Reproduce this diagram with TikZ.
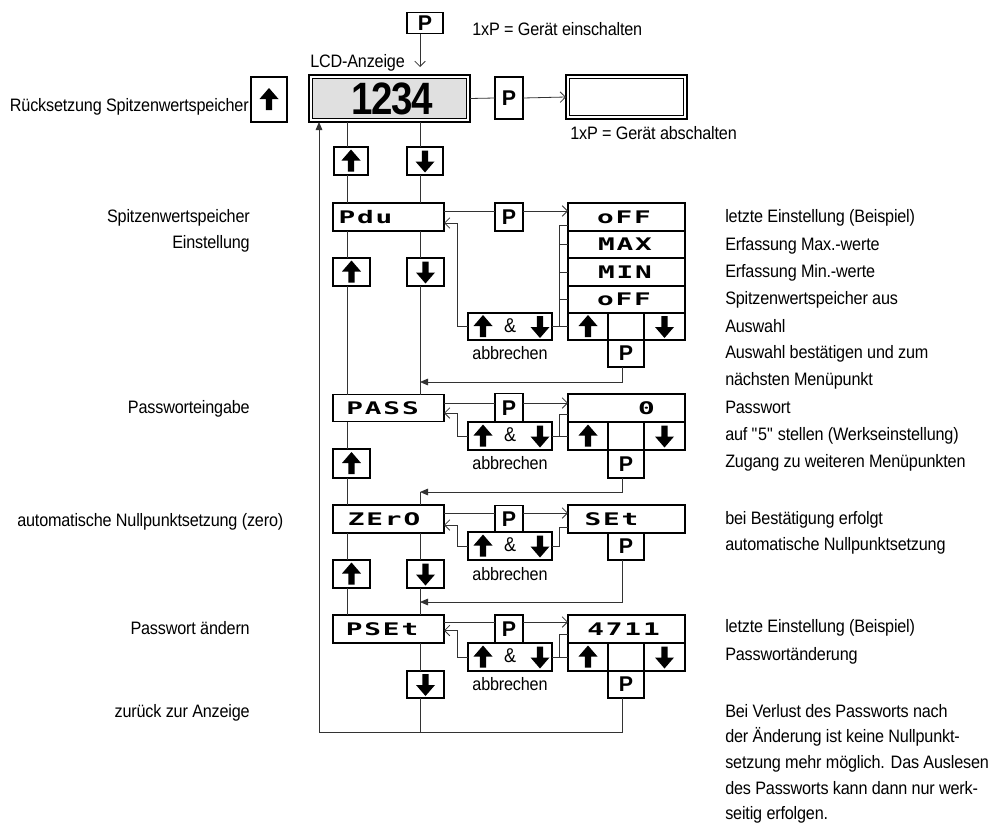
\documentclass[tikz,border=0pt]{standalone}
\usepackage{fontspec}
\setmainfont{Liberation Sans}[FakeStretch=0.9,LetterSpace=-1]
\newfontfamily\segfont{DejaVu Sans Mono}[FakeStretch=1.6,LetterSpace=11]
\newfontfamily\lcdfont{Liberation Sans}[FakeStretch=0.85,LetterSpace=-3]
\newfontfamily\keyfont{Liberation Sans Bold}
\usetikzlibrary{arrows.meta,calc}

\tikzset{
  bx/.style 2 args={draw, line width=1.3pt, minimum width=#1*0.75pt, minimum height=#2*0.75pt, inner sep=0pt, outer sep=0pt},
  key/.style 2 args={bx={#1}{#2}, font=\fontsize{16}{16}\keyfont},
  seg/.style={inner sep=0pt, font=\fontsize{13}{13}\segfont\bfseries},
  txt/.style={inner sep=0pt, text height=9.5pt, text depth=1pt, font=\fontsize{13.5}{15}\selectfont},
  conn/.style={line width=0.6pt, black!80},
  fwd/.style={conn, -{Straight Barb[length=4pt,width=8pt]}},
  ret/.style={conn, -{Triangle[length=6pt,width=5pt]}},
  uarr/.pic={\fill (0,-11.5) -- (9.5,-0.5) -- (3.2,-0.5) -- (3.2,10.5) -- (-3.2,10.5) -- (-3.2,-0.5) -- (-9.5,-0.5) -- cycle;},
  darr/.pic={\fill (0,11.5) -- (9.5,0.5) -- (3.2,0.5) -- (3.2,-10.5) -- (-3.2,-10.5) -- (-3.2,0.5) -- (-9.5,0.5) -- cycle;},
}

\begin{document}
\begin{tikzpicture}[x=0.75pt, y=-0.75pt]
    \useasboundingbox (0,0) rectangle (992,825);
    \coordinate (colU) at (347,0);
    \coordinate (colD) at (420,0);
    \coordinate (cb) at (319,732);

    % Anzeige
    \node[key={36}{21}] (pon) at (425,23) {P};
    \node[txt, anchor=west] (ontxt) at (472,30) {1xP = Gerät einschalten};
    \node[txt, anchor=west] (lcdtxt) at (310,62) {LCD-Anzeige};
    \node[bx={161}{47}] (lcd) at (389.5,98.5) {};
    \draw[line width=0.7pt, fill=black!12] ([shift={(2.6pt,-2.6pt)}]lcd.north west) rectangle ([shift={(-2.6pt,2.6pt)}]lcd.south east);
    \node[inner sep=0pt, font=\fontsize{34}{34}\lcdfont\bfseries] (lcdval) at (392,99) {1234};
    \node[key={28}{42}] (pl) at (509,98) {P};
    \node[bx={121}{44}] (blank) at (626.5,97) {};
    \draw[line width=0.7pt] ([shift={(2.6pt,-2.6pt)}]blank.north west) rectangle ([shift={(-2.6pt,2.6pt)}]blank.south east);
    \node[txt, anchor=west] (offtxt) at (570,134) {1xP = Gerät abschalten};
    \node[bx={36}{45}] (rst) at (269,99.5) {};
    \pic at (rst) {uarr};
    \node[txt, anchor=east] (rsttxt) at (249,106) {Rücksetzung Spitzenwertspeicher};
    \coordinate (ponx) at ($(pon.south)+(-5,0)$);
    \draw[fwd, shorten >=6pt] (ponx) -- (ponx |- lcd.north);
    \draw[conn] (lcd.east) -- (pl.west);
    \draw[fwd] (pl.east) -- (blank.west);

    \node[bx={34}{28}] (u0) at (351,161) {}; \pic at (u0) {uarr};
    \node[bx={36}{28}] (d0) at (425,161) {}; \pic at (d0) {darr};

    % Pdu
    \node[bx={111}{28}] (pdu) at (388.5,217) {};
    \node[seg] (pdut) at (365.5,217) {Pdu};
    \node[key={28}{28}] (pp1) at (509,217) {P};
    \node[bx={117}{28}] (s1a) at (626.5,217) {};
    \node[bx={117}{27}] (s1b) at (626.5,244.5) {};
    \node[bx={117}{28}] (s1c) at (626.5,272) {};
    \node[bx={117}{27}] (s1d) at (626.5,299.5) {};
    \node[seg] (s1at) at (624,217) {oFF};
    \node[seg] (s1bt) at (625,244.5) {MAX};
    \node[seg] (s1ct) at (625,272) {MIN};
    \node[seg] (s1dt) at (624,299.5) {oFF};
    \node[bx={40}{27}] (s1u) at (588,326.5) {}; \pic at (s1u) {uarr};
    \node[bx={36}{27}] (s1m) at (626,326.5) {};
    \node[bx={41}{27}] (s1n) at (664.5,326.5) {}; \pic at (s1n) {darr};
    \node[key={36}{27}] (pq1) at (626,353.5) {P};
    \node[bx={84}{27}] (amp1) at (510,326.5) {};
    \pic at ($(amp1)+(-27,0)$) {uarr};
    \node[txt, font=\fontsize{15}{15}\selectfont] (amp1t) at (amp1) {\&};
    \pic at ($(amp1)+(30,0)$) {darr};
    \node[txt] (ab1) at (510,354) {abbrechen};
    \node[bx={37}{28}] (u1) at (351.5,272) {}; \pic at (u1) {uarr};
    \node[bx={37}{28}] (d1) at (425.5,272) {}; \pic at (d1) {darr};

    \draw[conn] ($(pdu.east)+(0,-6)$) -- ($(pp1.west)+(0,-6)$);
    \draw[fwd] ($(pp1.east)+(0,-6)$) -- ($(s1a.west)+(0,-6)$);
    \draw[fwd] (amp1.west) -| ($(pdu.east)+(13,6)$) -- ($(pdu.east)+(0,6)$);
    \draw[conn] (amp1.east) -- (s1u.west);
    \coordinate (k1) at ($(s1u.west)+(-9,0)$);
    \draw[conn] (k1) |- ($(s1a.west)+(0,8)$);
    \foreach \r in {s1b,s1c,s1d}
        \draw[conn] (k1 |- \r.west) -- (\r.west);
    \coordinate (r1) at (420,382);
    \draw[ret] ($(pq1.south)+(-4,0)$) |- (r1);

    % PASS
    \node[bx={111}{27}] (pass) at (388.5,408) {};
    \node[seg] (passt) at (382.5,408) {PASS};
    \node[key={28}{29}] (pp2) at (509,408) {P};
    \node[bx={84}{28}] (amp2) at (510,436) {};
    \pic at ($(amp2)+(-27,0)$) {uarr};
    \node[txt, font=\fontsize{15}{15}\selectfont] (amp2t) at (amp2) {\&};
    \pic at ($(amp2)+(30,0)$) {darr};
    \node[bx={117}{28}] (s2a) at (626.5,408) {};
    \node[seg] (s2at) at (646.5,408) {0};
    \node[bx={40}{28}] (s2u) at (588,436) {}; \pic at (s2u) {uarr};
    \node[bx={36}{28}] (s2m) at (626,436) {};
    \node[bx={41}{28}] (s2n) at (664.5,436) {}; \pic at (s2n) {darr};
    \node[key={36}{28}] (pq2) at (626,464) {P};
    \node[txt] (ab2) at (510,464) {abbrechen};
    \node[bx={37}{29}] (u2) at (351.5,463.5) {}; \pic at (u2) {uarr};

    \draw[conn] ($(pass.east)+(0,-5)$) -- ($(pp2.west)+(0,-5)$);
    \draw[fwd] ($(pp2.east)+(0,-5)$) -- ($(s2a.west)+(0,-5)$);
    \draw[fwd] (amp2.west) -| ($(pass.east)+(13,5)$) -- ($(pass.east)+(0,5)$);
    \draw[conn] (amp2.east) -- (s2u.west);
    \coordinate (k2) at ($(s2u.west)+(-9,0)$);
    \draw[conn] (k2) |- ($(s2a.west)+(0,6)$);
    \coordinate (r2) at (420,492);
    \draw[ret] ($(pq2.south)+(-4,0)$) |- (r2);

    % ZERO
    \node[bx={111}{28}] (zero) at (388.5,519) {};
    \node[seg] (zerot) at (384,519) {ZErO};
    \node[key={28}{27}] (pp3) at (509,519) {P};
    \node[bx={84}{28}] (amp3) at (510,546) {};
    \pic at ($(amp3)+(-27,0)$) {uarr};
    \node[txt, font=\fontsize{15}{15}\selectfont] (amp3t) at (amp3) {\&};
    \pic at ($(amp3)+(30,0)$) {darr};
    \node[bx={117}{28}] (s3a) at (626.5,519) {};
    \node[seg] (s3at) at (611.5,519) {SEt};
    \node[key={36}{27}] (pq3) at (626,546.5) {P};
    \node[txt] (ab3) at (510,575) {abbrechen};
    \node[bx={37}{28}] (u3) at (351.5,574) {}; \pic at (u3) {uarr};
    \node[bx={37}{28}] (d3) at (425.5,574) {}; \pic at (d3) {darr};

    \draw[conn] (r2) -- (r2 |- zero.north);
    \draw[conn] ($(zero.east)+(0,-6)$) -- ($(pp3.west)+(0,-6)$);
    \draw[fwd] ($(pp3.east)+(0,-6)$) -- ($(s3a.west)+(0,-6)$);
    \draw[fwd] (amp3.west) -| ($(zero.east)+(13,6)$) -- ($(zero.east)+(0,6)$);
    \draw[conn] (amp3.east) -| ($(s3a.west)+(-9,8)$) -- ($(s3a.west)+(0,8)$);
    \coordinate (r3) at (420,602);
    \draw[ret] ($(pq3.south)+(-4,0)$) |- (r3);

    % PSEt
    \node[bx={111}{28}] (pset) at (388.5,629) {};
    \node[seg] (psett) at (382,629) {PSEt};
    \node[key={28}{28}] (pp4) at (509,629) {P};
    \node[bx={84}{28}] (amp4) at (510,657) {};
    \pic at ($(amp4)+(-27,0)$) {uarr};
    \node[txt, font=\fontsize{15}{15}\selectfont] (amp4t) at (amp4) {\&};
    \pic at ($(amp4)+(30,0)$) {darr};
    \node[bx={117}{28}] (s4a) at (626.5,629) {};
    \node[seg] (s4at) at (623.5,629) {4711};
    \node[bx={40}{28}] (s4u) at (588,657) {}; \pic at (s4u) {uarr};
    \node[bx={36}{28}] (s4m) at (626,657) {};
    \node[bx={41}{28}] (s4n) at (664.5,657) {}; \pic at (s4n) {darr};
    \node[key={36}{27}] (pq4) at (626,684.5) {P};
    \node[txt] (ab4) at (510,685) {abbrechen};
    \node[bx={37}{27}] (d4) at (425.5,684.5) {}; \pic at (d4) {darr};

    \draw[conn] ($(pset.east)+(0,-7)$) -- ($(pp4.west)+(0,-7)$);
    \draw[fwd] ($(pp4.east)+(0,-7)$) -- ($(s4a.west)+(0,-7)$);
    \draw[fwd] (amp4.west) -| ($(pset.east)+(13,1.5)$) -- ($(pset.east)+(0,1.5)$);
    \draw[conn] (amp4.east) -- (s4u.west);
    \coordinate (k4) at ($(s4u.west)+(-9,0)$);
    \draw[conn] (k4) |- ($(s4a.west)+(0,5)$);

    % Hauptspalten
    \foreach \a/\b in {lcd/u0,u0/pdu,pdu/u1,u1/pass,pass/u2,u2/zero,zero/u3,u3/pset}
        \draw[conn] (\a.south -| colU) -- (\b.north -| colU);
    \foreach \a/\b in {lcd/d0,d0/pdu,pdu/d1,d1/pass,zero/d3,d3/pset,pset/d4}
        \draw[conn] (\a.south -| colD) -- (\b.north -| colD);
    \draw[conn] (d4.south -| colD) -- (colD |- cb);
    \draw[conn] ($(pq4.south)+(-4,0)$) |- (cb);
    \draw[ret] (cb) -- (cb |- lcd.south);

    % Beschriftung links
    \node[txt, anchor=east] (l1) at (250,217) {Spitzenwertspeicher};
    \node[txt, anchor=east] (l2) at (250,243) {Einstellung};
    \node[txt, anchor=east] (l3) at (250,408) {Passworteingabe};
    \node[txt, anchor=west] (l4) at (17,521) {automatische Nullpunktsetzung (zero)};
    \node[txt, anchor=east] (l5) at (250,629) {Passwort ändern};
    \node[txt, anchor=east] (l6) at (250,712) {zurück zur Anzeige};

    % Beschriftung rechts
    \foreach \y/\t [count=\i] in {217/letzte Einstellung (Beispiel), 245/Erfassung Max.-werte,
        272/Erfassung Min.-werte, 299/Spitzenwertspeicher aus, 327/Auswahl,
        353/Auswahl bestätigen und zum, 380/nächsten Menüpunkt, 408/Passwort,
        435/auf {\textquotedbl}5{\textquotedbl} stellen (Werkseinstellung), 462/Zugang zu weiteren Menüpunkten,
        519/bei Bestätigung erfolgt, 545/automatische Nullpunktsetzung,
        627/letzte Einstellung (Beispiel), 655/Passwortänderung,
        712/Bei Verlust des Passworts nach, 737/der Änderung ist keine Nullpunkt-,
        763/setzung mehr möglich. Das Auslesen, 789/des Passworts kann dann nur werk-,
        814/seitig erfolgen.}
        \node[txt, anchor=west] (r\i) at (725,\y) {\t};
\end{tikzpicture}
\end{document}
